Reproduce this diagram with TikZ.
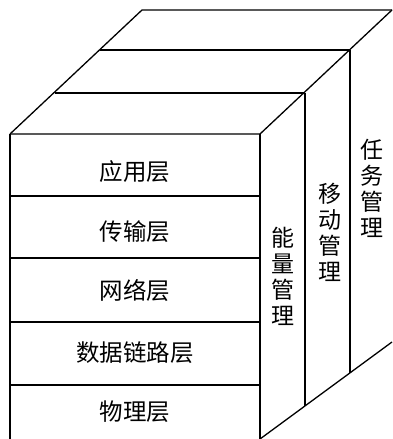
\documentclass[tikz,border=0pt]{standalone}
\usepackage{fontspec}
\newfontfamily\cjk{Noto Sans CJK SC}
\usepackage{tikz}

\tikzset{
  layer/.style={font=\cjk\fontsize{23.5}{26}\selectfont, inner sep=0pt},
  mgmt/.style={font=\cjk\fontsize{23}{26}\selectfont, align=center, inner sep=0pt}
}

\begin{document}
\begin{tikzpicture}[x=1pt,y=-1pt,line width=1.3pt,line join=round]
    \useasboundingbox (0,0) rectangle (392,439);

    % top face
    \draw (10,134) -- (142,10) -- (392,10);
    \draw (10,134) -- (260,134) -- (392,10);
    \draw (55,93) -- (305,93);
    \draw (100,50) -- (350,50);

    % front face
    \draw (10,134) -- (10,439);
    \draw (260,134) -- (260,439);
    \draw (10,196) -- (260,196);
    \draw (10,258) -- (260,258);
    \draw (10,322) -- (260,322);
    \draw (10,385) -- (260,385);

    % side slices
    \draw (305,93) -- (305,406);
    \draw (350,50) -- (350,373);
    \draw (260,439) -- (392,342);

    \node[layer] (app) at (135,172) {应用层};
    \node[layer] (trans) at (135,232) {传输层};
    \node[layer] (net) at (135,291) {网络层};
    \node[layer] (link) at (135,353) {数据链路层};
    \node[layer] (phy) at (135,412) {物理层};

    \node[mgmt] (energy) at (283,276) {能\\量\\管\\理};
    \node[mgmt] (move) at (330,232) {移\\动\\管\\理};
    \node[mgmt] (task) at (372,188) {任\\务\\管\\理};
\end{tikzpicture}
\end{document}
